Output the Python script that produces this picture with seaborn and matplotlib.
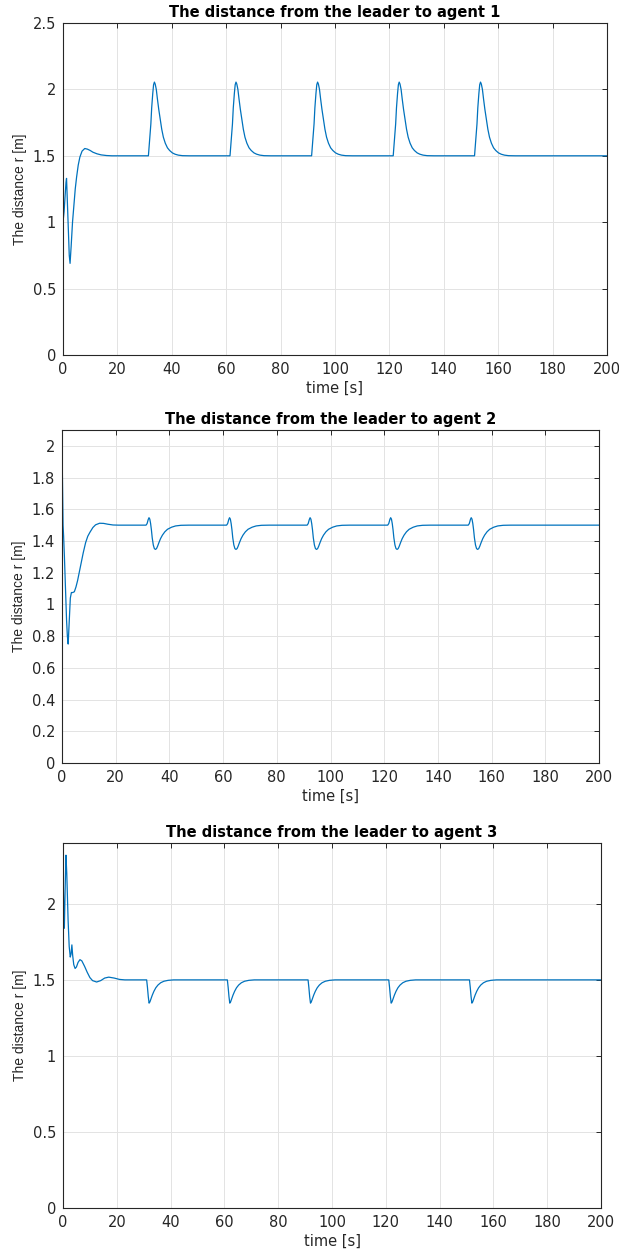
import numpy as np
import pandas as pd
import matplotlib
matplotlib.use("Agg")
import matplotlib.pyplot as plt
import seaborn as sns

# ---- data (time in s, distance in m) ----
T_END = 200.0
R_REF = 1.5

# agent 1: start-up transient
a1_t0 = [0.0, 0.4, 0.8, 1.1, 1.3, 1.6, 2.0, 2.3, 2.6, 3.0, 3.5, 4.0, 4.5, 5.0, 5.6, 6.2, 7.0, 8.0, 9.0, 10.0, 11.0, 12.5, 14.0, 16.0, 18.0, 20.0]
a1_r0 = [1.0, 1.08, 1.2, 1.3, 1.33, 1.15, 0.92, 0.75, 0.69, 0.82, 1.0, 1.13, 1.25, 1.34, 1.43, 1.49, 1.535, 1.555, 1.55, 1.54, 1.527, 1.515, 1.507, 1.502, 1.5, 1.5]
# agent 1: response to each manoeuvre (time after onset)
a1_dt = [0.0, 0.3, 0.6, 0.9, 1.2, 1.6, 1.9, 2.2, 2.5, 2.9, 3.3, 3.8, 4.3, 4.9, 5.5, 6.2, 7.0, 7.8, 8.8, 9.8, 11.0, 12.5, 15.0]
a1_dr = [1.5, 1.58, 1.65, 1.74, 1.86, 1.97, 2.035, 2.055, 2.04, 2.0, 1.93, 1.85, 1.78, 1.70, 1.64, 1.595, 1.56, 1.54, 1.522, 1.512, 1.505, 1.501, 1.5]
a1_onsets = [31.4, 61.4, 91.4, 121.4, 151.3]

# agent 2
a2_t0 = [0.0, 0.2, 0.4, 0.6, 0.9, 1.3, 1.7, 2.0, 2.3, 2.7, 3.1, 3.5, 4.0, 4.6, 5.2, 5.8, 6.4, 7.0, 7.9, 8.8, 9.6, 10.4, 11.5, 12.5, 14.0, 15.5, 17.0, 19.0, 21.0]
a2_r0 = [2.0, 1.75, 1.5, 1.43, 1.3, 1.1, 0.9, 0.8, 0.75, 0.9, 1.04, 1.075, 1.075, 1.08, 1.11, 1.15, 1.2, 1.25, 1.325, 1.39, 1.43, 1.455, 1.485, 1.502, 1.512, 1.511, 1.506, 1.501, 1.5]
a2_dt = [0.0, 0.4, 0.8, 1.1, 1.4, 1.7, 2.0, 2.3, 2.7, 3.1, 3.5, 3.9, 4.3, 4.8, 5.4, 6.1, 7.0, 8.0, 9.5, 11.0, 13.0, 16.0]
a2_dr = [1.5, 1.51, 1.535, 1.547, 1.538, 1.51, 1.47, 1.42, 1.375, 1.352, 1.347, 1.352, 1.367, 1.39, 1.415, 1.437, 1.458, 1.474, 1.487, 1.495, 1.499, 1.5]
a2_onsets = [31.3, 61.3, 91.3, 121.3, 151.3]

# agent 3
a3_t0 = [0.0, 0.25, 0.5, 0.8, 1.1, 1.4, 1.9, 2.3, 2.7, 3.0, 3.3, 3.6, 4.0, 4.5, 5.0, 5.6, 6.3, 7.0, 8.0, 9.0, 10.0, 11.0, 12.5, 14.0, 15.5, 17.0, 19.0, 21.0, 23.0]
a3_r0 = [2.24, 2.0, 1.84, 2.1, 2.32, 2.2, 1.89, 1.72, 1.65, 1.67, 1.73, 1.66, 1.6, 1.575, 1.585, 1.615, 1.633, 1.625, 1.59, 1.55, 1.515, 1.495, 1.486, 1.495, 1.512, 1.518, 1.512, 1.503, 1.5]
a3_dt = [0.0, 0.3, 0.6, 0.9, 1.2, 1.6, 2.1, 2.7, 3.4, 4.2, 5.2, 6.4, 8.0, 10.0, 13.0]
a3_dr = [1.5, 1.45, 1.39, 1.347, 1.355, 1.375, 1.4, 1.425, 1.448, 1.466, 1.481, 1.491, 1.497, 1.5, 1.5]
a3_onsets = [31.1, 61.1, 91.1, 121.1, 151.1]

titles = ["The distance from the leader to agent 1",
          "The distance from the leader to agent 2",
          "The distance from the leader to agent 3"]
x_ticks = [0, 20, 40, 60, 80, 100, 120, 140, 160, 180, 200]
y_ticks = [[0, 0.5, 1, 1.5, 2, 2.5],
           [0, 0.2, 0.4, 0.6, 0.8, 1, 1.2, 1.4, 1.6, 1.8, 2],
           [0, 0.5, 1, 1.5, 2]]
y_tops = [2.5, 2.1, 2.4]


def assemble(t0, r0, dt, dr, onsets):
    """Chain the start-up transient and the repeated manoeuvre responses."""
    ts, rs = list(t0), list(r0)
    for on in onsets:
        ts.append(on)
        rs.append(R_REF)
        ts.extend(on + d for d in dt[1:])
        rs.extend(dr[1:])
    ts.append(T_END)
    rs.append(R_REF)
    return pd.DataFrame({"time": ts, "r": rs})


series = [assemble(a1_t0, a1_r0, a1_dt, a1_dr, a1_onsets),
          assemble(a2_t0, a2_r0, a2_dt, a2_dr, a2_onsets),
          assemble(a3_t0, a3_r0, a3_dt, a3_dr, a3_onsets)]

# ---- styling ----
sns.set_style("whitegrid")
plt.rcParams["font.family"] = ["DejaVu Sans"]
plt.rcParams["axes.edgecolor"] = "#262626"
plt.rcParams["axes.linewidth"] = 0.8
plt.rcParams["grid.color"] = "#e3e3e3"
plt.rcParams["grid.linewidth"] = 0.7

W, H = 619, 1257
fig = plt.figure(figsize=(W / 100, H / 100), dpi=100)
fig.patch.set_facecolor("white")

boxes = [(63, 23, 607, 355), (62, 430, 599, 763), (63, 843, 601, 1208)]

for i, (df, (x0, y0, x1, y1)) in enumerate(zip(series, boxes)):
    ax = fig.add_axes([x0 / W, 1 - y1 / H, (x1 - x0) / W, (y1 - y0) / H])
    sns.lineplot(data=df, x="time", y="r", ax=ax, color="#0072BD",
                 linewidth=0.9, sort=False, estimator=None)
    ax.set_xlim(0, T_END)
    ax.set_ylim(0, y_tops[i])
    ax.set_xticks(x_ticks)
    ax.set_xticklabels([str(v) for v in x_ticks])
    ax.set_yticks(y_ticks[i])
    ax.set_yticklabels([f"{v:g}" for v in y_ticks[i]])
    ax.grid(True, which="major")
    for s in ax.spines.values():
        s.set_visible(True)
        s.set_color("#262626")
        s.set_linewidth(0.8)
    ax.tick_params(direction="in", length=3.5, width=0.7, colors="#262626",
                   labelsize=10.5, pad=5, top=True, right=True,
                   labeltop=False, labelright=False)
    ax.set_xlabel("time [s]", fontsize=10.5, labelpad=3, color="#262626")
    ax.set_ylabel("The distance r [m]", fontsize=10, labelpad=4, color="#262626",
                  family="Liberation Sans")
    ax.set_title(titles[i], fontsize=10.5, fontweight="bold", pad=4, color="black")

fig.savefig("out.png", dpi=100, facecolor="white")
